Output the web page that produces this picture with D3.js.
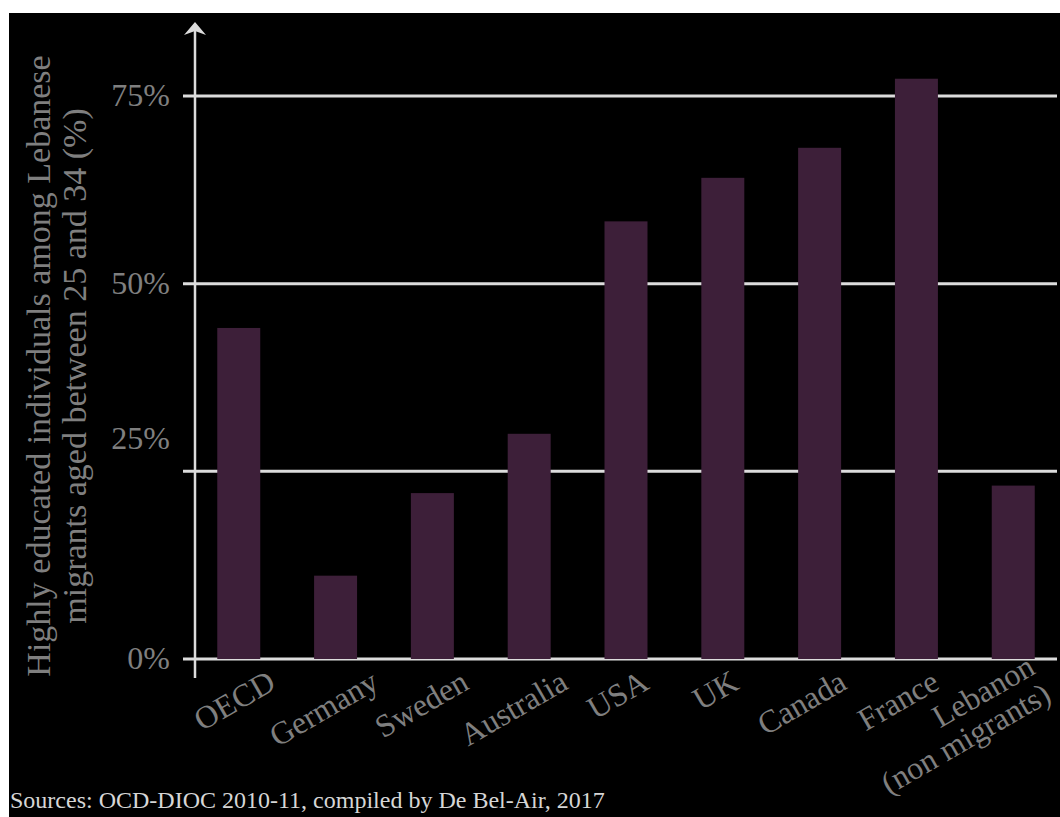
<!DOCTYPE html>
<html>
<head>
<meta charset="utf-8">
<script src="https://cdn.jsdelivr.net/npm/d3@7"></script>
<style>
  html, body { margin: 0; padding: 0; background: #ffffff; }
  svg { display: block; }
  text { font-family: "Liberation Serif", "Times New Roman", serif; }
</style>
</head>
<body>
<svg id="chart" width="1060" height="817"></svg>
<script>
// ---- data ----
const categories = ["OECD", "Germany", "Sweden", "Australia", "USA", "UK", "Canada", "France", "Lebanon\n(non migrants)"];
const values = [44.1, 11.1, 22.1, 30.0, 58.3, 64.1, 68.1, 77.3, 23.1];
const tickValues = [0, 25, 50, 75];
const tickLabels = ["0%", "25%", "50%", "75%"];
const yTitleLines = ["Highly educated individuals among Lebanese", "migrants aged between 25 and 34 (%)"];
const sourceText = "Sources: OCD-DIOC 2010-11, compiled by De Bel-Air, 2017";

// ---- layout ----
const W = 1060, H = 817;
const svg = d3.select("#chart");

svg.append("rect").attr("x", 9).attr("y", 13).attr("width", W - 9).attr("height", H - 13).attr("fill", "#000");

const axisX = 195, gridLeft = 183, gridRight = 1057;
const y = d3.scaleLinear().domain([0, 75]).range([659, 96]);
const x = d3.scaleBand().domain(categories).range([axisX, gridRight]).paddingInner(0.556).paddingOuter(0.23);
const xc = c => x(c) + x.bandwidth() / 2;
// label anchor positions (labels spaced slightly tighter than bars)
const xl = d3.scalePoint().domain(categories)
  .range([xc(categories[0]), xc(categories[categories.length - 1]) - 16]);

const gridColor = "#dcdcdc";
const textGray = "#7f7f7f";

// gridlines
svg.append("g").selectAll("line").data(tickValues).join("line")
  .attr("x1", gridLeft).attr("x2", gridRight)
  .attr("y1", d => y(d)).attr("y2", d => y(d))
  .attr("stroke", gridColor).attr("stroke-width", 3);

// bars
svg.append("g").selectAll("rect").data(values).join("rect")
  .attr("x", (d, i) => x(categories[i]))
  .attr("width", x.bandwidth())
  .attr("y", d => y(d))
  .attr("height", d => y(0) - y(d))
  .attr("fill", "#3d1f39");

// vertical axis with arrow
const axisTop = 30, axisBottom = y(0) + 19;
svg.append("line").attr("x1", axisX).attr("x2", axisX).attr("y1", axisBottom).attr("y2", axisTop)
  .attr("stroke", gridColor).attr("stroke-width", 2.5);
svg.append("path")
  .attr("d", `M${axisX},${axisTop - 8} L${axisX + 11},${axisTop + 5} L${axisX},${axisTop + 1} L${axisX - 11},${axisTop + 5} Z`)
  .attr("fill", gridColor);

// y tick labels via axis generator
const yAxis = d3.axisLeft(y).tickValues(tickValues).tickFormat((d, i) => tickLabels[i]).tickSize(0).tickPadding(0);
const gy = svg.append("g").attr("transform", `translate(170,0)`).call(yAxis);
gy.select(".domain").remove();
gy.selectAll("text")
  .attr("fill", textGray)
  .style("font-size", "32px")
  .style("font-family", '"Liberation Serif", "Times New Roman", serif')
  .attr("dy", d => d === 25 ? "-0.7em" : "0.3em");

// y title
const yt = svg.append("text")
  .attr("transform", `translate(50,366) rotate(-90)`)
  .attr("text-anchor", "middle")
  .attr("fill", textGray)
  .style("font-size", "34px");
yt.selectAll("tspan").data(yTitleLines).join("tspan")
  .attr("x", 0).attr("y", (d, i) => i * 36)
  .text(d => d);

// x labels rotated
const fsX = 32;
categories.forEach((c, i) => {
  const lines = c.split("\n");
  const t = svg.append("text")
    .attr("text-anchor", "end")
    .attr("fill", textGray)
    .style("font-size", fsX + "px");
  const spans = lines.map((ln, j) => t.append("tspan").attr("x", lines.length > 1 ? 3 : 0)
      .attr("y", lines.length > 1 ? (j - 0.5) * 1.0 * fsX : 0)
      .text(ln));
  const L = spans[0].node().getComputedTextLength();
  const bx = xl(c) + 16 + 0.26 * L;
  t.attr("transform", `translate(${bx},688) rotate(-30)`);
});

// source
svg.append("text").attr("x", 10).attr("y", 808)
  .attr("fill", "#d6d6d6").style("font-size", "24px")
  .text(sourceText);
</script>
</body>
</html>
